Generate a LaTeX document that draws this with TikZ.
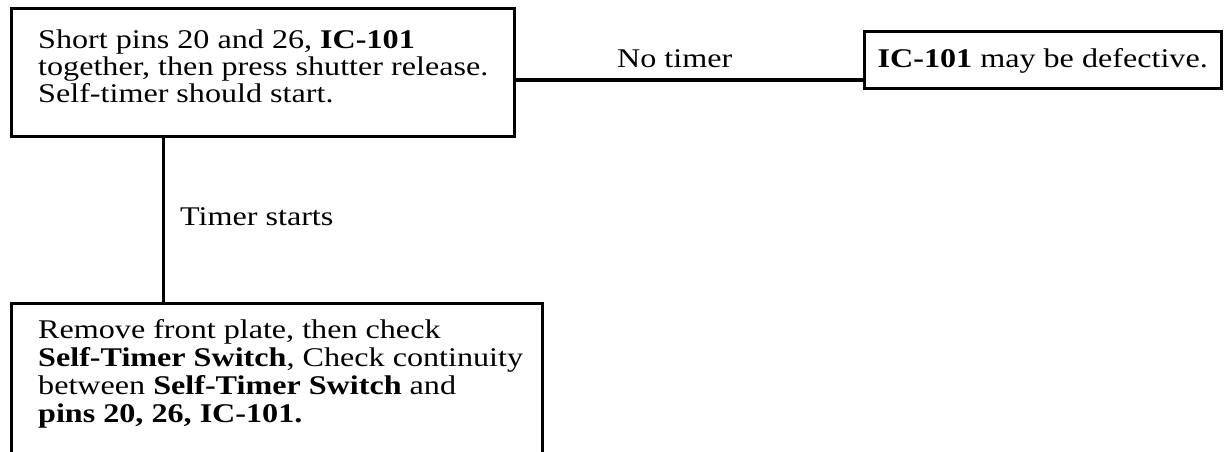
\documentclass[tikz,border=0pt]{standalone}
\usepackage{fontspec}
\setmainfont[FakeStretch=1.19]{Liberation Serif}
\begin{document}
\begin{tikzpicture}[x=1pt,y=-1pt,
  box/.style={draw, line width=3pt, inner sep=0pt, anchor=north west},
  conn/.style={draw, line width=3pt},
  txt/.style={anchor=base west, inner sep=0pt, align=left, font=\fontsize{27}{27}\selectfont},
  txtb/.style={anchor=base west, inner sep=0pt, align=left, font=\fontsize{27}{28}\selectfont},
  lbl/.style={inner sep=0pt, font=\fontsize{27}{27}\selectfont}]
\clip (0,0) rectangle (1226,452);
% boxes
\node[box, minimum width=503pt, minimum height=128pt] (b1) at (10,7) {};
\node[box, minimum width=357pt, minimum height=57pt] (b2) at (863,30) {};
\node[box, minimum width=531pt, minimum height=220pt] (b3) at (10,302) {};
% texts (anchored at the baseline of their last line)
\node[txt] (t1) at (38,102) {Short pins 20 and 26, \textbf{IC-101}\\together, then press shutter release.\\Self-timer should start.};
\node[lbl, anchor=base east] (t2) at (1208,67) {\textbf{IC-101} may be defective.};
\node[txtb] (t3) at (38,422) {Remove front plate, then check\\\textbf{Self-Timer Switch}, Check continuity\\between \textbf{Self-Timer Switch} and\\\textbf{pins 20, 26, IC-101.}};
% connectors
\coordinate (hl) at (0,80);
\coordinate (vl) at (163,0);
\draw[conn] (b1.east |- hl) -- (b2.west |- hl);
\draw[conn] (b1.south -| vl) -- (b3.north -| vl);
% connector labels
\node[lbl, anchor=base west] (l1) at (617,67) {No timer};
\node[lbl, anchor=base west] (l2) at (180,225) {Timer starts};
\end{tikzpicture}
\end{document}
